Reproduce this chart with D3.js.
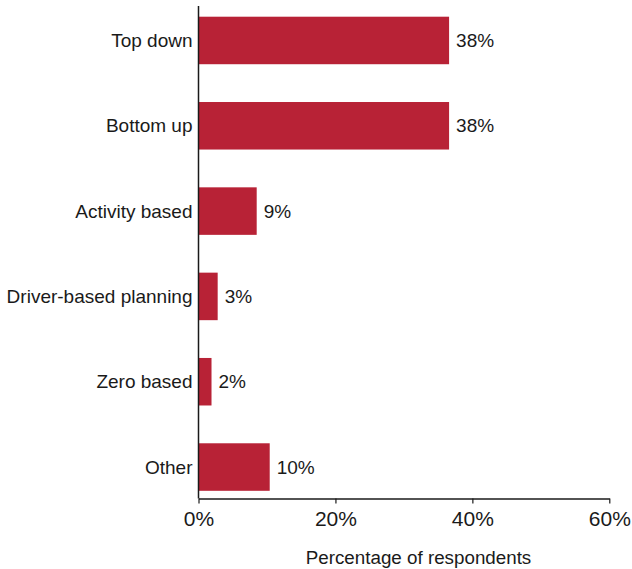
<!DOCTYPE html>
<html>
<head>
<meta charset="utf-8">
<script src="https://cdn.jsdelivr.net/npm/d3@7"></script>
<style>
  body { margin: 0; background: #fff; }
  svg text { font-family: "Liberation Sans", Arial, Helvetica, sans-serif; fill: #1a1a1a; }
</style>
</head>
<body>
<svg id="svg1"></svg>
<script>
var categories = ['Top down', 'Bottom up', 'Activity based', 'Driver-based planning', 'Zero based', 'Other'];
var values = [36.6, 36.6, 8.5, 2.8, 1.9, 10.4];
var valueLabels = ['38%', '38%', '9%', '3%', '2%', '10%'];
var tickValues = [0, 20, 40, 60];
var tickLabels = ['0%', '20%', '40%', '60%'];

var width = 632, height = 569;

var svg = d3.select('#svg1')
  .attr('width', width)
  .attr('height', height);

var x = d3.scaleLinear()
  .domain([0, 60])
  .range([198.5, 609.3]);

var y = d3.scaleBand()
  .domain(categories)
  .range([-2.2, 509.7])
  .paddingInner(0.443)
  .paddingOuter(0.2215);

var axisY = 498.5;

// bars
svg.selectAll('.bar')
  .data(categories)
  .enter()
  .append('rect')
    .attr('class', 'bar')
    .attr('x', x(0))
    .attr('y', function(d) { return y(d); })
    .attr('width', function(d, i) { return x(values[i]) - x(0); })
    .attr('height', y.bandwidth())
    .attr('fill', '#b82236');

// value labels
svg.selectAll('.val')
  .data(categories)
  .enter()
  .append('text')
    .attr('class', 'val')
    .attr('x', function(d, i) { return x(values[i]) + 7; })
    .attr('y', function(d) { return y(d) + y.bandwidth() / 2; })
    .attr('dy', '0.35em')
    .style('font-size', '19px')
    .text(function(d, i) { return valueLabels[i]; });

// category labels
svg.selectAll('.cat')
  .data(categories)
  .enter()
  .append('text')
    .attr('class', 'cat')
    .attr('x', x(0) - 6)
    .attr('y', function(d) { return y(d) + y.bandwidth() / 2; })
    .attr('dy', '0.35em')
    .attr('text-anchor', 'end')
    .style('font-size', '19px')
    .text(function(d) { return d; });

// y axis line
svg.append('line')
  .attr('x1', x(0)).attr('x2', x(0))
  .attr('y1', 6).attr('y2', axisY)
  .attr('stroke', '#1a1a1a')
  .attr('stroke-width', 1.5);

// x axis
var xAxis = svg.append('g')
  .attr('transform', 'translate(0,' + axisY + ')')
  .call(d3.axisBottom(x)
    .tickValues(tickValues)
    .tickSize(5)
    .tickSizeOuter(0)
    .tickPadding(8)
    .tickFormat(function(d, i) { return tickLabels[i]; }));

xAxis.select('.domain').attr('stroke', '#1a1a1a').attr('stroke-width', 1.5);
xAxis.selectAll('.tick line').attr('stroke', '#1a1a1a').attr('stroke-width', 1.2);
xAxis.selectAll('.tick text')
  .style('font-size', '21px')
  .style('font-family', '"Liberation Sans", Arial, sans-serif')
  .attr('fill', '#1a1a1a');

svg.append('text')
  .attr('x', 418.5)
  .attr('y', 557)
  .attr('dy', '0.35em')
  .attr('text-anchor', 'middle')
  .style('font-size', '18.8px')
  .text('Percentage of respondents');
</script>
</body>
</html>
